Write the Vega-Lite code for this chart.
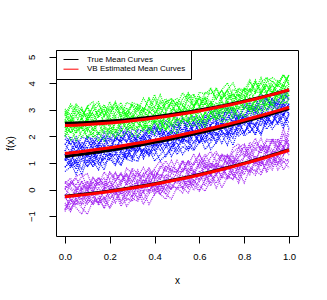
{
"$schema":"https://vega.github.io/schema/vega-lite/v6.json",
"width":242,"height":186,
"autosize":"none",
"padding":{"left":56,"top":50,"right":29,"bottom":64},
"background":"white",
"config":{"font":"Liberation Sans","view":{"stroke":"black","strokeWidth":1},
"axis":{"grid":false,"domain":false,"tickColor":"black","tickSize":7,"tickWidth":1,"labelColor":"black","labelFontSize":9.5,"titleColor":"black","titleFontSize":10,"titleFontWeight":"normal"}},
"datasets":{
"noise":[
{"x":0,"G0":2.97,"G1":2.00,"G2":2.88,"G3":2.00,"G4":2.93,"G5":2.10,"G6":3.04,"G7":2.18,"B0":1.14,"B1":1.91,"B2":0.68,"B3":1.49,"B4":2.06,"B5":1.17,"B6":1.29,"B7":1.08,"P0":0.12,"P1":-0.58,"P2":0.02,"P3":-0.50,"P4":0.04,"P5":-0.19,"P6":-0.31,"P7":-0.19},
{"x":0.025,"G0":2.61,"G1":2.36,"G2":2.51,"G3":2.37,"G4":2.80,"G5":2.63,"G6":2.80,"G7":2.58,"B0":1.35,"B1":1.71,"B2":0.85,"B3":1.12,"B4":1.70,"B5":0.84,"B6":1.45,"B7":1.33,"P0":0.02,"P1":-0.83,"P2":0.23,"P3":-0.78,"P4":0.30,"P5":-0.74,"P6":0.26,"P7":-0.30},
{"x":0.05,"G0":3.16,"G1":2.16,"G2":2.78,"G3":1.84,"G4":2.49,"G5":2.48,"G6":3.22,"G7":2.12,"B0":0.91,"B1":1.40,"B2":1.02,"B3":1.38,"B4":1.99,"B5":1.11,"B6":1.88,"B7":1.02,"P0":-0.22,"P1":-0.39,"P2":0.43,"P3":-0.26,"P4":0.17,"P5":-0.37,"P6":0.09,"P7":-0.57},
{"x":0.075,"G0":2.79,"G1":2.54,"G2":2.31,"G3":2.21,"G4":3.00,"G5":2.29,"G6":2.99,"G7":2.41,"B0":1.17,"B1":1.79,"B2":0.57,"B3":1.62,"B4":1.57,"B5":0.77,"B6":1.67,"B7":1.49,"P0":-0.37,"P1":-0.69,"P2":-0.01,"P3":-0.09,"P4":0.50,"P5":-0.57,"P6":-0.07,"P7":0.06},
{"x":0.1,"G0":3.09,"G1":1.95,"G2":2.68,"G3":2.34,"G4":2.64,"G5":2.72,"G6":2.75,"G7":2.67,"B0":1.31,"B1":1.56,"B2":1.14,"B3":1.53,"B4":1.98,"B5":1.40,"B6":1.34,"B7":1.28,"P0":0.14,"P1":-0.93,"P2":0.33,"P3":-0.54,"P4":0.60,"P5":-0.45,"P6":0.28,"P7":-0.39},
{"x":0.125,"G0":2.56,"G1":2.33,"G2":2.88,"G3":1.97,"G4":3.14,"G5":2.20,"G6":3.13,"G7":2.28,"B0":0.85,"B1":2.03,"B2":0.88,"B3":1.20,"B4":1.90,"B5":1.00,"B6":1.85,"B7":1.39,"P0":0.02,"P1":-0.41,"P2":-0.03,"P3":-0.28,"P4":0.06,"P5":-0.15,"P6":-0.16,"P7":-0.02},
{"x":0.15,"G0":2.95,"G1":2.50,"G2":2.46,"G3":2.13,"G4":2.72,"G5":2.61,"G6":3.31,"G7":2.10,"B0":1.43,"B1":1.75,"B2":1.09,"B3":1.77,"B4":1.57,"B5":1.39,"B6":1.54,"B7":1.08,"P0":0.29,"P1":-0.48,"P2":0.26,"P3":-0.55,"P4":0.46,"P5":-0.58,"P6":0.46,"P7":-0.22},
{"x":0.175,"G0":3.20,"G1":2.10,"G2":2.79,"G3":1.83,"G4":3.01,"G5":2.48,"G6":2.75,"G7":2.57,"B0":1.17,"B1":1.98,"B2":0.74,"B3":1.45,"B4":2.18,"B5":0.95,"B6":1.73,"B7":1.66,"P0":-0.12,"P1":-0.30,"P2":0.43,"P3":0.10,"P4":0.18,"P5":-0.31,"P6":0.15,"P7":-0.48},
{"x":0.2,"G0":2.78,"G1":2.32,"G2":3.01,"G3":2.33,"G4":2.52,"G5":2.39,"G6":3.13,"G7":2.43,"B0":1.12,"B1":1.60,"B2":1.38,"B3":1.62,"B4":1.81,"B5":1.19,"B6":2.01,"B7":1.32,"P0":0.02,"P1":-0.70,"P2":0.03,"P3":-0.35,"P4":0.66,"P5":-0.68,"P6":0.30,"P7":0.00},
{"x":0.225,"G0":3.31,"G1":1.96,"G2":2.64,"G3":2.26,"G4":2.92,"G5":2.76,"G6":3.01,"G7":2.11,"B0":1.62,"B1":1.93,"B2":1.16,"B3":1.40,"B4":2.18,"B5":1.35,"B6":1.45,"B7":1.29,"P0":0.32,"P1":-0.36,"P2":0.65,"P3":-0.02,"P4":0.39,"P5":-0.14,"P6":0.00,"P7":0.15},
{"x":0.25,"G0":2.75,"G1":2.51,"G2":2.46,"G3":1.99,"G4":3.15,"G5":2.19,"G6":3.28,"G7":2.55,"B0":1.42,"B1":1.81,"B2":0.91,"B3":1.98,"B4":1.95,"B5":0.94,"B6":1.97,"B7":1.70,"P0":-0.08,"P1":-0.11,"P2":0.31,"P3":-0.50,"P4":0.63,"P5":-0.04,"P6":0.33,"P7":-0.18},
{"x":0.275,"G0":3.08,"G1":2.60,"G2":2.93,"G3":2.15,"G4":2.72,"G5":2.66,"G6":2.78,"G7":2.67,"B0":1.16,"B1":2.21,"B2":1.38,"B3":1.80,"B4":2.36,"B5":1.49,"B6":1.80,"B7":1.67,"P0":0.23,"P1":-0.63,"P2":0.60,"P3":-0.03,"P4":0.17,"P5":-0.39,"P6":0.59,"P7":0.00},
{"x":0.3,"G0":2.71,"G1":2.25,"G2":2.85,"G3":2.55,"G4":2.92,"G5":2.77,"G6":3.28,"G7":2.31,"B0":1.52,"B1":2.12,"B2":1.14,"B3":1.52,"B4":1.80,"B5":1.22,"B6":2.13,"B7":1.19,"P0":0.53,"P1":-0.33,"P2":0.31,"P3":-0.11,"P4":0.81,"P5":-0.28,"P6":0.17,"P7":-0.25},
{"x":0.325,"G0":3.21,"G1":2.36,"G2":2.63,"G3":1.98,"G4":3.18,"G5":2.51,"G6":3.19,"G7":2.79,"B0":1.44,"B1":1.71,"B2":1.07,"B3":1.99,"B4":2.27,"B5":1.74,"B6":1.72,"B7":1.63,"P0":-0.05,"P1":-0.44,"P2":0.74,"P3":-0.29,"P4":0.59,"P5":0.12,"P6":0.28,"P7":0.19},
{"x":0.35,"G0":3.07,"G1":2.70,"G2":3.07,"G3":2.33,"G4":2.74,"G5":2.32,"G6":2.96,"G7":2.49,"B0":1.82,"B1":2.04,"B2":1.55,"B3":1.88,"B4":2.17,"B5":1.16,"B6":2.07,"B7":1.43,"P0":0.37,"P1":-0.05,"P2":0.20,"P3":0.22,"P4":0.47,"P5":-0.39,"P6":0.61,"P7":0.03},
{"x":0.375,"G0":2.95,"G1":2.19,"G2":2.52,"G3":2.43,"G4":3.09,"G5":2.94,"G6":3.45,"G7":2.30,"B0":1.27,"B1":2.31,"B2":1.35,"B3":2.02,"B4":1.95,"B5":1.50,"B6":1.74,"B7":1.93,"P0":0.22,"P1":-0.56,"P2":0.59,"P3":-0.11,"P4":0.84,"P5":-0.02,"P6":0.09,"P7":0.37},
{"x":0.4,"G0":3.43,"G1":2.59,"G2":2.88,"G3":2.10,"G4":2.95,"G5":2.75,"G6":3.09,"G7":2.73,"B0":1.77,"B1":2.00,"B2":1.53,"B3":1.56,"B4":2.37,"B5":1.30,"B6":2.34,"B7":1.69,"P0":0.55,"P1":-0.16,"P2":0.74,"P3":0.36,"P4":0.40,"P5":-0.06,"P6":0.62,"P7":-0.03},
{"x":0.425,"G0":2.86,"G1":2.54,"G2":3.10,"G3":2.62,"G4":2.75,"G5":2.51,"G6":3.58,"G7":2.65,"B0":1.48,"B1":2.51,"B2":1.08,"B3":1.86,"B4":2.09,"B5":1.81,"B6":2.30,"B7":1.63,"P0":0.05,"P1":0.00,"P2":0.40,"P3":-0.20,"P4":0.80,"P5":0.22,"P6":0.55,"P7":0.27},
{"x":0.45,"G0":3.23,"G1":2.21,"G2":2.78,"G3":2.26,"G4":3.35,"G5":2.74,"G6":3.01,"G7":2.27,"B0":1.71,"B1":1.95,"B2":1.30,"B3":2.23,"B4":2.60,"B5":1.71,"B6":2.04,"B7":1.90,"P0":0.57,"P1":-0.17,"P2":0.89,"P3":0.21,"P4":1.08,"P5":-0.18,"P6":0.36,"P7":-0.05},
{"x":0.475,"G0":3.42,"G1":2.88,"G2":2.89,"G3":2.51,"G4":2.98,"G5":2.51,"G6":3.31,"G7":2.89,"B0":1.94,"B1":2.28,"B2":1.60,"B3":1.85,"B4":2.46,"B5":1.25,"B6":2.23,"B7":1.59,"P0":0.47,"P1":-0.36,"P2":0.67,"P3":0.01,"P4":0.72,"P5":0.20,"P6":0.87,"P7":0.33},
{"x":0.5,"G0":3.16,"G1":2.40,"G2":3.32,"G3":2.10,"G4":3.27,"G5":3.03,"G6":3.43,"G7":2.58,"B0":1.44,"B1":2.46,"B2":1.77,"B3":2.17,"B4":2.32,"B5":1.60,"B6":2.04,"B7":2.21,"P0":0.37,"P1":0.08,"P2":1.10,"P3":0.41,"P4":0.63,"P5":0.02,"P6":0.73,"P7":0.60},
{"x":0.525,"G0":2.89,"G1":2.67,"G2":2.78,"G3":2.68,"G4":3.17,"G5":2.94,"G6":3.19,"G7":2.80,"B0":1.92,"B1":2.24,"B2":1.32,"B3":2.12,"B4":2.70,"B5":1.93,"B6":2.59,"B7":1.85,"P0":0.24,"P1":0.08,"P2":0.67,"P3":0.36,"P4":0.69,"P5":0.42,"P6":0.64,"P7":0.52},
{"x":0.55,"G0":3.43,"G1":2.56,"G2":3.17,"G3":2.53,"G4":2.92,"G5":2.72,"G6":3.65,"G7":3.02,"B0":1.75,"B1":2.69,"B2":1.63,"B3":1.90,"B4":2.16,"B5":1.82,"B6":2.00,"B7":1.82,"P0":0.80,"P1":-0.13,"P2":1.10,"P3":0.03,"P4":1.08,"P5":0.08,"P6":1.04,"P7":0.42},
{"x":0.575,"G0":3.60,"G1":2.89,"G2":2.97,"G3":2.37,"G4":3.55,"G5":2.57,"G6":3.35,"G7":2.58,"B0":2.18,"B1":2.16,"B2":1.47,"B3":2.54,"B4":2.61,"B5":1.52,"B6":2.40,"B7":2.21,"P0":0.69,"P1":0.33,"P2":0.68,"P3":0.62,"P4":0.92,"P5":0.39,"P6":0.55,"P7":0.15},
{"x":0.6,"G0":3.17,"G1":3.01,"G2":3.11,"G3":2.74,"G4":3.12,"G5":3.10,"G6":3.13,"G7":2.94,"B0":1.74,"B1":2.44,"B2":1.79,"B3":2.13,"B4":2.77,"B5":2.17,"B6":2.53,"B7":2.07,"P0":0.55,"P1":0.15,"P2":1.02,"P3":0.30,"P4":1.35,"P5":-0.03,"P6":0.97,"P7":0.71},
{"x":0.625,"G0":3.45,"G1":2.49,"G2":3.43,"G3":2.32,"G4":3.51,"G5":3.00,"G6":3.67,"G7":2.60,"B0":2.15,"B1":2.66,"B2":2.06,"B3":2.57,"B4":2.42,"B5":1.77,"B6":2.21,"B7":1.79,"P0":1.01,"P1":-0.06,"P2":1.31,"P3":0.63,"P4":0.79,"P5":0.37,"P6":1.13,"P7":0.38},
{"x":0.65,"G0":3.18,"G1":2.89,"G2":3.00,"G3":2.94,"G4":3.31,"G5":3.27,"G6":3.60,"G7":2.89,"B0":2.12,"B1":2.38,"B2":1.51,"B3":2.15,"B4":2.68,"B5":1.96,"B6":2.79,"B7":2.41,"P0":0.53,"P1":0.36,"P2":0.96,"P3":0.14,"P4":1.21,"P5":0.61,"P6":0.80,"P7":0.92},
{"x":0.675,"G0":3.84,"G1":2.62,"G2":3.28,"G3":2.64,"G4":3.06,"G5":2.87,"G6":3.79,"G7":3.07,"B0":1.84,"B1":2.89,"B2":1.77,"B3":2.45,"B4":3.05,"B5":2.17,"B6":2.52,"B7":2.04,"P0":0.99,"P1":0.59,"P2":0.83,"P3":0.58,"P4":1.43,"P5":0.24,"P6":1.01,"P7":0.55},
{"x":0.7,"G0":3.41,"G1":3.12,"G2":2.93,"G3":2.81,"G4":3.56,"G5":3.03,"G6":3.41,"G7":2.69,"B0":2.48,"B1":2.70,"B2":2.10,"B3":2.61,"B4":2.64,"B5":1.74,"B6":2.48,"B7":2.33,"P0":0.89,"P1":0.06,"P2":1.33,"P3":0.86,"P4":1.06,"P5":0.60,"P6":0.74,"P7":0.87},
{"x":0.725,"G0":3.75,"G1":2.86,"G2":3.48,"G3":2.52,"G4":3.72,"G5":3.34,"G6":3.76,"G7":3.32,"B0":2.17,"B1":2.59,"B2":2.08,"B3":2.20,"B4":3.09,"B5":2.20,"B6":2.92,"B7":2.50,"P0":0.84,"P1":0.48,"P2":1.23,"P3":0.48,"P4":1.32,"P5":0.86,"P6":1.28,"P7":0.42},
{"x":0.75,"G0":3.28,"G1":3.11,"G2":3.59,"G3":2.86,"G4":3.40,"G5":2.95,"G6":4.02,"G7":2.99,"B0":2.07,"B1":3.08,"B2":1.67,"B3":2.76,"B4":3.03,"B5":1.93,"B6":2.89,"B7":2.09,"P0":1.25,"P1":0.40,"P2":0.95,"P3":1.05,"P4":1.00,"P5":0.53,"P6":1.25,"P7":0.86},
{"x":0.775,"G0":3.77,"G1":2.67,"G2":3.26,"G3":3.14,"G4":3.60,"G5":3.28,"G6":3.52,"G7":3.30,"B0":2.42,"B1":2.93,"B2":2.32,"B3":2.57,"B4":2.67,"B5":2.57,"B6":2.42,"B7":2.35,"P0":0.71,"P1":0.70,"P2":1.42,"P3":0.52,"P4":1.58,"P5":0.38,"P6":1.01,"P7":1.12},
{"x":0.8,"G0":3.69,"G1":3.31,"G2":3.37,"G3":2.72,"G4":3.35,"G5":3.58,"G6":3.82,"G7":3.01,"B0":2.56,"B1":2.60,"B2":2.02,"B3":2.76,"B4":3.06,"B5":2.11,"B6":2.85,"B7":2.79,"P0":1.23,"P1":0.25,"P2":1.59,"P3":0.90,"P4":1.72,"P5":0.90,"P6":1.22,"P7":0.74},
{"x":0.825,"G0":3.53,"G1":3.11,"G2":3.79,"G3":2.85,"G4":3.81,"G5":3.02,"G6":3.73,"G7":3.46,"B0":2.13,"B1":3.16,"B2":2.18,"B3":2.45,"B4":3.27,"B5":2.60,"B6":2.70,"B7":2.64,"P0":1.37,"P1":0.78,"P2":1.26,"P3":0.56,"P4":1.40,"P5":0.85,"P6":1.65,"P7":0.97},
{"x":0.85,"G0":4.05,"G1":3.00,"G2":3.29,"G3":3.19,"G4":3.66,"G5":3.45,"G6":4.13,"G7":2.93,"B0":2.51,"B1":2.95,"B2":2.39,"B3":3.09,"B4":2.88,"B5":2.43,"B6":3.18,"B7":2.39,"P0":1.15,"P1":0.73,"P2":1.78,"P3":1.10,"P4":1.55,"P5":0.67,"P6":1.12,"P7":1.27},
{"x":0.875,"G0":3.74,"G1":3.39,"G2":3.68,"G3":2.69,"G4":4.02,"G5":3.32,"G6":3.64,"G7":3.34,"B0":2.42,"B1":3.44,"B2":2.05,"B3":2.98,"B4":3.13,"B5":2.11,"B6":3.08,"B7":2.88,"P0":1.00,"P1":0.54,"P2":1.52,"P3":1.00,"P4":1.93,"P5":1.15,"P6":1.51,"P7":0.87},
{"x":0.9,"G0":4.22,"G1":2.96,"G2":3.65,"G3":3.23,"G4":3.63,"G5":3.66,"G6":4.05,"G7":3.50,"B0":2.86,"B1":3.01,"B2":2.64,"B3":2.67,"B4":3.59,"B5":2.71,"B6":2.77,"B7":2.75,"P0":1.66,"P1":1.07,"P2":1.37,"P3":0.92,"P4":1.46,"P5":0.64,"P6":1.65,"P7":1.26},
{"x":0.925,"G0":3.67,"G1":3.37,"G2":3.94,"G3":3.17,"G4":3.94,"G5":3.17,"G6":4.22,"G7":3.17,"B0":2.80,"B1":3.44,"B2":2.28,"B3":2.98,"B4":3.40,"B5":2.48,"B6":3.43,"B7":2.45,"P0":1.50,"P1":0.74,"P2":1.83,"P3":1.43,"P4":1.89,"P5":1.03,"P6":1.35,"P7":1.15},
{"x":0.95,"G0":4.10,"G1":3.67,"G2":3.56,"G3":3.00,"G4":3.64,"G5":3.71,"G6":4.07,"G7":3.68,"B0":2.51,"B1":3.01,"B2":2.55,"B3":3.29,"B4":3.19,"B5":2.93,"B6":3.13,"B7":3.00,"P0":1.30,"P1":1.27,"P2":1.79,"P3":0.90,"P4":1.88,"P5":1.29,"P6":1.91,"P7":0.99},
{"x":0.975,"G0":3.90,"G1":3.31,"G2":3.94,"G3":3.51,"G4":4.02,"G5":3.61,"G6":3.88,"G7":3.46,"B0":3.10,"B1":3.38,"B2":2.76,"B3":2.93,"B4":3.71,"B5":2.44,"B6":3.39,"B7":2.79,"P0":1.57,"P1":0.74,"P2":1.45,"P3":1.31,"P4":1.59,"P5":1.01,"P6":1.59,"P7":1.63},
{"x":1,"G0":4.32,"G1":3.24,"G2":3.78,"G3":3.39,"G4":4.31,"G5":3.53,"G6":4.34,"G7":3.91,"B0":2.80,"B1":3.58,"B2":2.30,"B3":3.24,"B4":3.38,"B5":2.87,"B6":3.10,"B7":3.23,"P0":1.38,"P1":1.08,"P2":2.11,"P3":1.54,"P4":2.30,"P5":1.16,"P6":1.88,"P7":1.30}
],
"noise2":[
{"x":0,"G0":2.61,"G1":2.36,"G2":2.51,"G3":2.37,"G4":2.80,"G5":2.63,"G6":2.80,"G7":2.58,"B0":1.35,"B1":1.71,"B2":0.85,"B3":1.12,"B4":1.70,"B5":0.84,"B6":1.45,"B7":1.33,"P0":0.02,"P1":-0.83,"P2":0.23,"P3":-0.78,"P4":0.30,"P5":-0.74,"P6":0.26,"P7":-0.30},
{"x":0.025,"G0":3.16,"G1":2.16,"G2":2.78,"G3":1.84,"G4":2.49,"G5":2.48,"G6":3.22,"G7":2.12,"B0":0.91,"B1":1.40,"B2":1.02,"B3":1.38,"B4":1.99,"B5":1.11,"B6":1.88,"B7":1.02,"P0":-0.22,"P1":-0.39,"P2":0.43,"P3":-0.26,"P4":0.17,"P5":-0.37,"P6":0.09,"P7":-0.57},
{"x":0.05,"G0":2.79,"G1":2.54,"G2":2.31,"G3":2.21,"G4":3.00,"G5":2.29,"G6":2.99,"G7":2.41,"B0":1.17,"B1":1.79,"B2":0.57,"B3":1.62,"B4":1.57,"B5":0.77,"B6":1.67,"B7":1.49,"P0":-0.37,"P1":-0.69,"P2":-0.01,"P3":-0.09,"P4":0.50,"P5":-0.57,"P6":-0.07,"P7":0.06},
{"x":0.075,"G0":3.09,"G1":1.95,"G2":2.68,"G3":2.34,"G4":2.64,"G5":2.72,"G6":2.75,"G7":2.67,"B0":1.31,"B1":1.56,"B2":1.14,"B3":1.53,"B4":1.98,"B5":1.40,"B6":1.34,"B7":1.28,"P0":0.14,"P1":-0.93,"P2":0.33,"P3":-0.54,"P4":0.60,"P5":-0.45,"P6":0.28,"P7":-0.39},
{"x":0.1,"G0":2.56,"G1":2.33,"G2":2.88,"G3":1.97,"G4":3.14,"G5":2.20,"G6":3.13,"G7":2.28,"B0":0.85,"B1":2.03,"B2":0.88,"B3":1.20,"B4":1.90,"B5":1.00,"B6":1.85,"B7":1.39,"P0":0.02,"P1":-0.41,"P2":-0.03,"P3":-0.28,"P4":0.06,"P5":-0.15,"P6":-0.16,"P7":-0.02},
{"x":0.125,"G0":2.95,"G1":2.50,"G2":2.46,"G3":2.13,"G4":2.72,"G5":2.61,"G6":3.31,"G7":2.10,"B0":1.43,"B1":1.75,"B2":1.09,"B3":1.77,"B4":1.57,"B5":1.39,"B6":1.54,"B7":1.08,"P0":0.29,"P1":-0.48,"P2":0.26,"P3":-0.55,"P4":0.46,"P5":-0.58,"P6":0.46,"P7":-0.22},
{"x":0.15,"G0":3.20,"G1":2.10,"G2":2.79,"G3":1.83,"G4":3.01,"G5":2.48,"G6":2.75,"G7":2.57,"B0":1.17,"B1":1.98,"B2":0.74,"B3":1.45,"B4":2.18,"B5":0.95,"B6":1.73,"B7":1.66,"P0":-0.12,"P1":-0.30,"P2":0.43,"P3":0.10,"P4":0.18,"P5":-0.31,"P6":0.15,"P7":-0.48},
{"x":0.175,"G0":2.78,"G1":2.32,"G2":3.01,"G3":2.33,"G4":2.52,"G5":2.39,"G6":3.13,"G7":2.43,"B0":1.12,"B1":1.60,"B2":1.38,"B3":1.62,"B4":1.81,"B5":1.19,"B6":2.01,"B7":1.32,"P0":0.02,"P1":-0.70,"P2":0.03,"P3":-0.35,"P4":0.66,"P5":-0.68,"P6":0.30,"P7":0.00},
{"x":0.2,"G0":3.31,"G1":1.96,"G2":2.64,"G3":2.26,"G4":2.92,"G5":2.76,"G6":3.01,"G7":2.11,"B0":1.62,"B1":1.93,"B2":1.16,"B3":1.40,"B4":2.18,"B5":1.35,"B6":1.45,"B7":1.29,"P0":0.32,"P1":-0.36,"P2":0.65,"P3":-0.02,"P4":0.39,"P5":-0.14,"P6":0.00,"P7":0.15},
{"x":0.225,"G0":2.75,"G1":2.51,"G2":2.46,"G3":1.99,"G4":3.15,"G5":2.19,"G6":3.28,"G7":2.55,"B0":1.42,"B1":1.81,"B2":0.91,"B3":1.98,"B4":1.95,"B5":0.94,"B6":1.97,"B7":1.70,"P0":-0.08,"P1":-0.11,"P2":0.31,"P3":-0.50,"P4":0.63,"P5":-0.04,"P6":0.33,"P7":-0.18},
{"x":0.25,"G0":3.08,"G1":2.60,"G2":2.93,"G3":2.15,"G4":2.72,"G5":2.66,"G6":2.78,"G7":2.67,"B0":1.16,"B1":2.21,"B2":1.38,"B3":1.80,"B4":2.36,"B5":1.49,"B6":1.80,"B7":1.67,"P0":0.23,"P1":-0.63,"P2":0.60,"P3":-0.03,"P4":0.17,"P5":-0.39,"P6":0.59,"P7":0.00},
{"x":0.275,"G0":2.71,"G1":2.25,"G2":2.85,"G3":2.55,"G4":2.92,"G5":2.77,"G6":3.28,"G7":2.31,"B0":1.52,"B1":2.12,"B2":1.14,"B3":1.52,"B4":1.80,"B5":1.22,"B6":2.13,"B7":1.19,"P0":0.53,"P1":-0.33,"P2":0.31,"P3":-0.11,"P4":0.81,"P5":-0.28,"P6":0.17,"P7":-0.25},
{"x":0.3,"G0":3.21,"G1":2.36,"G2":2.63,"G3":1.98,"G4":3.18,"G5":2.51,"G6":3.19,"G7":2.79,"B0":1.44,"B1":1.71,"B2":1.07,"B3":1.99,"B4":2.27,"B5":1.74,"B6":1.72,"B7":1.63,"P0":-0.05,"P1":-0.44,"P2":0.74,"P3":-0.29,"P4":0.59,"P5":0.12,"P6":0.28,"P7":0.19},
{"x":0.325,"G0":3.07,"G1":2.70,"G2":3.07,"G3":2.33,"G4":2.74,"G5":2.32,"G6":2.96,"G7":2.49,"B0":1.82,"B1":2.04,"B2":1.55,"B3":1.88,"B4":2.17,"B5":1.16,"B6":2.07,"B7":1.43,"P0":0.37,"P1":-0.05,"P2":0.20,"P3":0.22,"P4":0.47,"P5":-0.39,"P6":0.61,"P7":0.03},
{"x":0.35,"G0":2.95,"G1":2.19,"G2":2.52,"G3":2.43,"G4":3.09,"G5":2.94,"G6":3.45,"G7":2.30,"B0":1.27,"B1":2.31,"B2":1.35,"B3":2.02,"B4":1.95,"B5":1.50,"B6":1.74,"B7":1.93,"P0":0.22,"P1":-0.56,"P2":0.59,"P3":-0.11,"P4":0.84,"P5":-0.02,"P6":0.09,"P7":0.37},
{"x":0.375,"G0":3.43,"G1":2.59,"G2":2.88,"G3":2.10,"G4":2.95,"G5":2.75,"G6":3.09,"G7":2.73,"B0":1.77,"B1":2.00,"B2":1.53,"B3":1.56,"B4":2.37,"B5":1.30,"B6":2.34,"B7":1.69,"P0":0.55,"P1":-0.16,"P2":0.74,"P3":0.36,"P4":0.40,"P5":-0.06,"P6":0.62,"P7":-0.03},
{"x":0.4,"G0":2.86,"G1":2.54,"G2":3.10,"G3":2.62,"G4":2.75,"G5":2.51,"G6":3.58,"G7":2.65,"B0":1.48,"B1":2.51,"B2":1.08,"B3":1.86,"B4":2.09,"B5":1.81,"B6":2.30,"B7":1.63,"P0":0.05,"P1":0.00,"P2":0.40,"P3":-0.20,"P4":0.80,"P5":0.22,"P6":0.55,"P7":0.27},
{"x":0.425,"G0":3.23,"G1":2.21,"G2":2.78,"G3":2.26,"G4":3.35,"G5":2.74,"G6":3.01,"G7":2.27,"B0":1.71,"B1":1.95,"B2":1.30,"B3":2.23,"B4":2.60,"B5":1.71,"B6":2.04,"B7":1.90,"P0":0.57,"P1":-0.17,"P2":0.89,"P3":0.21,"P4":1.08,"P5":-0.18,"P6":0.36,"P7":-0.05},
{"x":0.45,"G0":3.42,"G1":2.88,"G2":2.89,"G3":2.51,"G4":2.98,"G5":2.51,"G6":3.31,"G7":2.89,"B0":1.94,"B1":2.28,"B2":1.60,"B3":1.85,"B4":2.46,"B5":1.25,"B6":2.23,"B7":1.59,"P0":0.47,"P1":-0.36,"P2":0.67,"P3":0.01,"P4":0.72,"P5":0.20,"P6":0.87,"P7":0.33},
{"x":0.475,"G0":3.16,"G1":2.40,"G2":3.32,"G3":2.10,"G4":3.27,"G5":3.03,"G6":3.43,"G7":2.58,"B0":1.44,"B1":2.46,"B2":1.77,"B3":2.17,"B4":2.32,"B5":1.60,"B6":2.04,"B7":2.21,"P0":0.37,"P1":0.08,"P2":1.10,"P3":0.41,"P4":0.63,"P5":0.02,"P6":0.73,"P7":0.60},
{"x":0.5,"G0":2.89,"G1":2.67,"G2":2.78,"G3":2.68,"G4":3.17,"G5":2.94,"G6":3.19,"G7":2.80,"B0":1.92,"B1":2.24,"B2":1.32,"B3":2.12,"B4":2.70,"B5":1.93,"B6":2.59,"B7":1.85,"P0":0.24,"P1":0.08,"P2":0.67,"P3":0.36,"P4":0.69,"P5":0.42,"P6":0.64,"P7":0.52},
{"x":0.525,"G0":3.43,"G1":2.56,"G2":3.17,"G3":2.53,"G4":2.92,"G5":2.72,"G6":3.65,"G7":3.02,"B0":1.75,"B1":2.69,"B2":1.63,"B3":1.90,"B4":2.16,"B5":1.82,"B6":2.00,"B7":1.82,"P0":0.80,"P1":-0.13,"P2":1.10,"P3":0.03,"P4":1.08,"P5":0.08,"P6":1.04,"P7":0.42},
{"x":0.55,"G0":3.60,"G1":2.89,"G2":2.97,"G3":2.37,"G4":3.55,"G5":2.57,"G6":3.35,"G7":2.58,"B0":2.18,"B1":2.16,"B2":1.47,"B3":2.54,"B4":2.61,"B5":1.52,"B6":2.40,"B7":2.21,"P0":0.69,"P1":0.33,"P2":0.68,"P3":0.62,"P4":0.92,"P5":0.39,"P6":0.55,"P7":0.15},
{"x":0.575,"G0":3.17,"G1":3.01,"G2":3.11,"G3":2.74,"G4":3.12,"G5":3.10,"G6":3.13,"G7":2.94,"B0":1.74,"B1":2.44,"B2":1.79,"B3":2.13,"B4":2.77,"B5":2.17,"B6":2.53,"B7":2.07,"P0":0.55,"P1":0.15,"P2":1.02,"P3":0.30,"P4":1.35,"P5":-0.03,"P6":0.97,"P7":0.71},
{"x":0.6,"G0":3.45,"G1":2.49,"G2":3.43,"G3":2.32,"G4":3.51,"G5":3.00,"G6":3.67,"G7":2.60,"B0":2.15,"B1":2.66,"B2":2.06,"B3":2.57,"B4":2.42,"B5":1.77,"B6":2.21,"B7":1.79,"P0":1.01,"P1":-0.06,"P2":1.31,"P3":0.63,"P4":0.79,"P5":0.37,"P6":1.13,"P7":0.38},
{"x":0.625,"G0":3.18,"G1":2.89,"G2":3.00,"G3":2.94,"G4":3.31,"G5":3.27,"G6":3.60,"G7":2.89,"B0":2.12,"B1":2.38,"B2":1.51,"B3":2.15,"B4":2.68,"B5":1.96,"B6":2.79,"B7":2.41,"P0":0.53,"P1":0.36,"P2":0.96,"P3":0.14,"P4":1.21,"P5":0.61,"P6":0.80,"P7":0.92},
{"x":0.65,"G0":3.84,"G1":2.62,"G2":3.28,"G3":2.64,"G4":3.06,"G5":2.87,"G6":3.79,"G7":3.07,"B0":1.84,"B1":2.89,"B2":1.77,"B3":2.45,"B4":3.05,"B5":2.17,"B6":2.52,"B7":2.04,"P0":0.99,"P1":0.59,"P2":0.83,"P3":0.58,"P4":1.43,"P5":0.24,"P6":1.01,"P7":0.55},
{"x":0.675,"G0":3.41,"G1":3.12,"G2":2.93,"G3":2.81,"G4":3.56,"G5":3.03,"G6":3.41,"G7":2.69,"B0":2.48,"B1":2.70,"B2":2.10,"B3":2.61,"B4":2.64,"B5":1.74,"B6":2.48,"B7":2.33,"P0":0.89,"P1":0.06,"P2":1.33,"P3":0.86,"P4":1.06,"P5":0.60,"P6":0.74,"P7":0.87},
{"x":0.7,"G0":3.75,"G1":2.86,"G2":3.48,"G3":2.52,"G4":3.72,"G5":3.34,"G6":3.76,"G7":3.32,"B0":2.17,"B1":2.59,"B2":2.08,"B3":2.20,"B4":3.09,"B5":2.20,"B6":2.92,"B7":2.50,"P0":0.84,"P1":0.48,"P2":1.23,"P3":0.48,"P4":1.32,"P5":0.86,"P6":1.28,"P7":0.42},
{"x":0.725,"G0":3.28,"G1":3.11,"G2":3.59,"G3":2.86,"G4":3.40,"G5":2.95,"G6":4.02,"G7":2.99,"B0":2.07,"B1":3.08,"B2":1.67,"B3":2.76,"B4":3.03,"B5":1.93,"B6":2.89,"B7":2.09,"P0":1.25,"P1":0.40,"P2":0.95,"P3":1.05,"P4":1.00,"P5":0.53,"P6":1.25,"P7":0.86},
{"x":0.75,"G0":3.77,"G1":2.67,"G2":3.26,"G3":3.14,"G4":3.60,"G5":3.28,"G6":3.52,"G7":3.30,"B0":2.42,"B1":2.93,"B2":2.32,"B3":2.57,"B4":2.67,"B5":2.57,"B6":2.42,"B7":2.35,"P0":0.71,"P1":0.70,"P2":1.42,"P3":0.52,"P4":1.58,"P5":0.38,"P6":1.01,"P7":1.12},
{"x":0.775,"G0":3.69,"G1":3.31,"G2":3.37,"G3":2.72,"G4":3.35,"G5":3.58,"G6":3.82,"G7":3.01,"B0":2.56,"B1":2.60,"B2":2.02,"B3":2.76,"B4":3.06,"B5":2.11,"B6":2.85,"B7":2.79,"P0":1.23,"P1":0.25,"P2":1.59,"P3":0.90,"P4":1.72,"P5":0.90,"P6":1.22,"P7":0.74},
{"x":0.8,"G0":3.53,"G1":3.11,"G2":3.79,"G3":2.85,"G4":3.81,"G5":3.02,"G6":3.73,"G7":3.46,"B0":2.13,"B1":3.16,"B2":2.18,"B3":2.45,"B4":3.27,"B5":2.60,"B6":2.70,"B7":2.64,"P0":1.37,"P1":0.78,"P2":1.26,"P3":0.56,"P4":1.40,"P5":0.85,"P6":1.65,"P7":0.97},
{"x":0.825,"G0":4.05,"G1":3.00,"G2":3.29,"G3":3.19,"G4":3.66,"G5":3.45,"G6":4.13,"G7":2.93,"B0":2.51,"B1":2.95,"B2":2.39,"B3":3.09,"B4":2.88,"B5":2.43,"B6":3.18,"B7":2.39,"P0":1.15,"P1":0.73,"P2":1.78,"P3":1.10,"P4":1.55,"P5":0.67,"P6":1.12,"P7":1.27},
{"x":0.85,"G0":3.74,"G1":3.39,"G2":3.68,"G3":2.69,"G4":4.02,"G5":3.32,"G6":3.64,"G7":3.34,"B0":2.42,"B1":3.44,"B2":2.05,"B3":2.98,"B4":3.13,"B5":2.11,"B6":3.08,"B7":2.88,"P0":1.00,"P1":0.54,"P2":1.52,"P3":1.00,"P4":1.93,"P5":1.15,"P6":1.51,"P7":0.87},
{"x":0.875,"G0":4.22,"G1":2.96,"G2":3.65,"G3":3.23,"G4":3.63,"G5":3.66,"G6":4.05,"G7":3.50,"B0":2.86,"B1":3.01,"B2":2.64,"B3":2.67,"B4":3.59,"B5":2.71,"B6":2.77,"B7":2.75,"P0":1.66,"P1":1.07,"P2":1.37,"P3":0.92,"P4":1.46,"P5":0.64,"P6":1.65,"P7":1.26},
{"x":0.9,"G0":3.67,"G1":3.37,"G2":3.94,"G3":3.17,"G4":3.94,"G5":3.17,"G6":4.22,"G7":3.17,"B0":2.80,"B1":3.44,"B2":2.28,"B3":2.98,"B4":3.40,"B5":2.48,"B6":3.43,"B7":2.45,"P0":1.50,"P1":0.74,"P2":1.83,"P3":1.43,"P4":1.89,"P5":1.03,"P6":1.35,"P7":1.15},
{"x":0.925,"G0":4.10,"G1":3.67,"G2":3.56,"G3":3.00,"G4":3.64,"G5":3.71,"G6":4.07,"G7":3.68,"B0":2.51,"B1":3.01,"B2":2.55,"B3":3.29,"B4":3.19,"B5":2.93,"B6":3.13,"B7":3.00,"P0":1.30,"P1":1.27,"P2":1.79,"P3":0.90,"P4":1.88,"P5":1.29,"P6":1.91,"P7":0.99},
{"x":0.95,"G0":3.90,"G1":3.31,"G2":3.94,"G3":3.51,"G4":4.02,"G5":3.61,"G6":3.88,"G7":3.46,"B0":3.10,"B1":3.38,"B2":2.76,"B3":2.93,"B4":3.71,"B5":2.44,"B6":3.39,"B7":2.79,"P0":1.57,"P1":0.74,"P2":1.45,"P3":1.31,"P4":1.59,"P5":1.01,"P6":1.59,"P7":1.63},
{"x":0.975,"G0":4.32,"G1":3.24,"G2":3.78,"G3":3.39,"G4":4.31,"G5":3.53,"G6":4.34,"G7":3.91,"B0":2.80,"B1":3.58,"B2":2.30,"B3":3.24,"B4":3.38,"B5":2.87,"B6":3.10,"B7":3.23,"P0":1.38,"P1":1.08,"P2":2.11,"P3":1.54,"P4":2.30,"P5":1.16,"P6":1.88,"P7":1.30},
{"x":1,"G0":3.96,"G1":3.37,"G2":4.00,"G3":3.57,"G4":4.08,"G5":3.67,"G6":3.94,"G7":3.52,"B0":3.16,"B1":3.44,"B2":2.82,"B3":2.99,"B4":3.77,"B5":2.50,"B6":3.45,"B7":2.85,"P0":1.64,"P1":0.81,"P2":1.52,"P3":1.38,"P4":1.66,"P5":1.08,"P6":1.66,"P7":1.70}
],
"means":[
{"x":0,"gt":2.5,"gr":2.41,"bt":1.25,"br":1.36,"pt":-0.25,"pr":-0.27},
{"x":0.05,"gt":2.513,"gr":2.428,"bt":1.302,"br":1.409,"pt":-0.208,"pr":-0.228},
{"x":0.1,"gt":2.531,"gr":2.45,"bt":1.358,"br":1.462,"pt":-0.161,"pr":-0.181},
{"x":0.15,"gt":2.554,"gr":2.478,"bt":1.418,"br":1.519,"pt":-0.109,"pr":-0.129},
{"x":0.2,"gt":2.582,"gr":2.51,"bt":1.482,"br":1.58,"pt":-0.052,"pr":-0.072},
{"x":0.25,"gt":2.616,"gr":2.548,"bt":1.55,"br":1.645,"pt":0.009,"pr":-0.011},
{"x":0.3,"gt":2.655,"gr":2.592,"bt":1.622,"br":1.714,"pt":0.076,"pr":0.056},
{"x":0.35,"gt":2.699,"gr":2.64,"bt":1.698,"br":1.787,"pt":0.146,"pr":0.126},
{"x":0.4,"gt":2.748,"gr":2.694,"bt":1.778,"br":1.864,"pt":0.222,"pr":0.202},
{"x":0.45,"gt":2.803,"gr":2.753,"bt":1.862,"br":1.945,"pt":0.302,"pr":0.282},
{"x":0.5,"gt":2.863,"gr":2.818,"bt":1.95,"br":2.03,"pt":0.388,"pr":0.368},
{"x":0.55,"gt":2.928,"gr":2.888,"bt":2.042,"br":2.119,"pt":0.477,"pr":0.457},
{"x":0.6,"gt":2.998,"gr":2.962,"bt":2.138,"br":2.212,"pt":0.572,"pr":0.552},
{"x":0.65,"gt":3.074,"gr":3.043,"bt":2.238,"br":2.309,"pt":0.671,"pr":0.651},
{"x":0.7,"gt":3.155,"gr":3.128,"bt":2.342,"br":2.41,"pt":0.776,"pr":0.756},
{"x":0.75,"gt":3.241,"gr":3.218,"bt":2.45,"br":2.515,"pt":0.884,"pr":0.864},
{"x":0.8,"gt":3.332,"gr":3.314,"bt":2.562,"br":2.624,"pt":0.998,"pr":0.978},
{"x":0.85,"gt":3.429,"gr":3.416,"bt":2.678,"br":2.737,"pt":1.116,"pr":1.096},
{"x":0.9,"gt":3.531,"gr":3.522,"bt":2.798,"br":2.854,"pt":1.24,"pr":1.22},
{"x":0.95,"gt":3.638,"gr":3.634,"bt":2.922,"br":2.975,"pt":1.367,"pr":1.347},
{"x":1,"gt":3.75,"gr":3.76,"bt":3.05,"br":3.1,"pt":1.5,"pr":1.48}
]},
"encoding":{
"x":{"field":"x","type":"quantitative","scale":{"domain":[-0.04,1.04],"nice":false,"zero":false},
"axis":{"values":[0,0.2,0.4,0.6,0.8,1],"format":".1f","labelPadding":8,"title":"x","titleY":47.5,"titleBaseline":"alphabetic"}},
"y":{"field":"v","type":"quantitative","scale":{"domain":[-1.75,5.26],"nice":false,"zero":false},
"axis":{"values":[-1,0,1,2,3,4,5],"format":"d","labelAngle":270,"labelAlign":"center","labelBaseline":"alphabetic","labelPadding":15,"title":"f(x)","titleAngle":270,"titleX":-42.5,"titleY":93,"titleAlign":"center","titleBaseline":"alphabetic"}}
},
"layer":[
{"data":{"name":"noise"},"transform":[{"fold":["P0","P1","P2","P3","P4","P5","P6","P7"],"as":["k","v"]}],
"mark":{"type":"line","stroke":"#A020F0","strokeWidth":1.2,"strokeDash":[1,1],"clip":true},
"encoding":{"detail":{"field":"k","type":"nominal"}}},
{"data":{"name":"noise2"},"transform":[{"fold":["P0","P1","P2","P3","P4","P5","P6","P7"],"as":["k","v"]}],
"mark":{"type":"line","stroke":"#A020F0","strokeWidth":1.2,"strokeDash":[1,1],"clip":true},
"encoding":{"detail":{"field":"k","type":"nominal"}}},
{"data":{"name":"noise"},"transform":[{"fold":["B0","B1","B2","B3","B4","B5","B6","B7"],"as":["k","v"]}],
"mark":{"type":"line","stroke":"#0000FF","strokeWidth":1.2,"strokeDash":[1,1],"clip":true},
"encoding":{"detail":{"field":"k","type":"nominal"}}},
{"data":{"name":"noise2"},"transform":[{"fold":["B0","B1","B2","B3","B4","B5","B6","B7"],"as":["k","v"]}],
"mark":{"type":"line","stroke":"#0000FF","strokeWidth":1.2,"strokeDash":[1,1],"clip":true},
"encoding":{"detail":{"field":"k","type":"nominal"}}},
{"data":{"name":"noise"},"transform":[{"fold":["G0","G1","G2","G3","G4","G5","G6","G7"],"as":["k","v"]}],
"mark":{"type":"line","stroke":"#00FF00","strokeWidth":1.2,"strokeDash":[1,1],"clip":true},
"encoding":{"detail":{"field":"k","type":"nominal"}}},
{"data":{"name":"noise2"},"transform":[{"fold":["G0","G1","G2","G3","G4","G5","G6","G7"],"as":["k","v"]}],
"mark":{"type":"line","stroke":"#00FF00","strokeWidth":1.2,"strokeDash":[1,1],"clip":true},
"encoding":{"detail":{"field":"k","type":"nominal"}}},
{"data":{"name":"means"},"transform":[{"fold":["gt","bt","pt"],"as":["k","v"]}],
"mark":{"type":"line","strokeWidth":1},
"encoding":{"detail":{"field":"k","type":"nominal"},
"color":{"datum":"True Mean Curves","type":"nominal","scale":{"domain":["True Mean Curves","VB Estimated Mean Curves"],"range":["#000000","#FF0000"]},
"legend":{"orient":"top-left","offset":0,"title":null,"symbolType":"M-0.5,0H3.25","symbolSize":64,"symbolStrokeWidth":1,"labelFontSize":8,"labelOffset":17,"padding":5,"rowPadding":0.7,"strokeColor":"black","fillColor":"white","labelColor":"black","cornerRadius":0}}}},
{"data":{"name":"means"},"transform":[{"fold":["gr","br","pr"],"as":["k","v"]}],
"mark":{"type":"line","strokeWidth":1},
"encoding":{"detail":{"field":"k","type":"nominal"},
"color":{"datum":"VB Estimated Mean Curves","type":"nominal"}}},
{"data":{"name":"means"},"transform":[{"fold":["gt","bt","pt"],"as":["k","v"]}],
"mark":{"type":"line","strokeWidth":3,"stroke":"#000000"},
"encoding":{"detail":{"field":"k","type":"nominal"}}},
{"data":{"name":"means"},"transform":[{"fold":["gr","br","pr"],"as":["k","v"]}],
"mark":{"type":"line","strokeWidth":3,"stroke":"#FF0000"},
"encoding":{"detail":{"field":"k","type":"nominal"}}}
]
}
